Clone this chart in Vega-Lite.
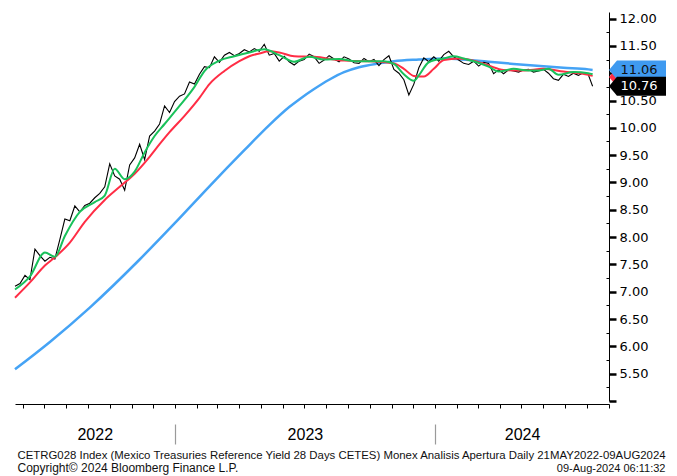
{
"$schema": "https://vega.github.io/schema/vega-lite/v6.json",
"width": 594, "height": 389,
"autosize": {"type": "none"},
"padding": {"left": 15, "top": 12, "right": 68, "bottom": 75},
"background": "white",
"config": {"view": {"stroke": null}, "font": "Liberation Sans", "axis": {"titleFontWeight": "normal", "grid": false}},
"datasets": {
"s": [
{"d":"2022-05-21","s":"L","v":7.10},{"d":"2022-05-28","s":"L","v":7.15},{"d":"2022-06-04","s":"L","v":7.30},{"d":"2022-06-11","s":"L","v":7.22},{"d":"2022-06-18","s":"L","v":7.78},{"d":"2022-06-25","s":"L","v":7.66},{"d":"2022-07-02","s":"L","v":7.56},{"d":"2022-07-09","s":"L","v":7.63},{"d":"2022-07-16","s":"L","v":7.60},{"d":"2022-07-23","s":"L","v":7.96},{"d":"2022-07-30","s":"L","v":8.33},{"d":"2022-08-06","s":"L","v":8.30},{"d":"2022-08-13","s":"L","v":8.57},{"d":"2022-08-20","s":"L","v":8.46},{"d":"2022-08-27","s":"L","v":8.58},{"d":"2022-09-03","s":"L","v":8.62},{"d":"2022-09-10","s":"L","v":8.72},{"d":"2022-09-17","s":"L","v":8.80},{"d":"2022-09-24","s":"L","v":8.92},{"d":"2022-10-01","s":"L","v":9.34},{"d":"2022-10-08","s":"L","v":9.12},{"d":"2022-10-15","s":"L","v":9.06},{"d":"2022-10-22","s":"L","v":8.86},{"d":"2022-10-29","s":"L","v":9.32},{"d":"2022-11-05","s":"L","v":9.45},{"d":"2022-11-12","s":"L","v":9.70},{"d":"2022-11-19","s":"L","v":9.42},{"d":"2022-11-26","s":"L","v":9.85},{"d":"2022-12-03","s":"L","v":9.94},{"d":"2022-12-10","s":"L","v":10.07},{"d":"2022-12-17","s":"L","v":10.40},{"d":"2022-12-24","s":"L","v":10.28},{"d":"2022-12-31","s":"L","v":10.48},
{"d":"2023-01-07","s":"L","v":10.58},{"d":"2023-01-14","s":"L","v":10.62},{"d":"2023-01-21","s":"L","v":10.84},{"d":"2023-01-28","s":"L","v":10.80},{"d":"2023-02-04","s":"L","v":10.98},{"d":"2023-02-11","s":"L","v":11.12},{"d":"2023-02-18","s":"L","v":11.10},{"d":"2023-02-25","s":"L","v":11.30},{"d":"2023-03-04","s":"L","v":11.20},{"d":"2023-03-11","s":"L","v":11.33},{"d":"2023-03-18","s":"L","v":11.38},{"d":"2023-03-25","s":"L","v":11.32},{"d":"2023-04-01","s":"L","v":11.36},{"d":"2023-04-08","s":"L","v":11.43},{"d":"2023-04-15","s":"L","v":11.39},{"d":"2023-04-22","s":"L","v":11.45},{"d":"2023-04-29","s":"L","v":11.40},{"d":"2023-05-06","s":"L","v":11.53},{"d":"2023-05-13","s":"L","v":11.33},{"d":"2023-05-20","s":"L","v":11.36},{"d":"2023-05-27","s":"L","v":11.22},{"d":"2023-06-03","s":"L","v":11.31},{"d":"2023-06-10","s":"L","v":11.21},{"d":"2023-06-17","s":"L","v":11.15},{"d":"2023-06-24","s":"L","v":11.22},{"d":"2023-07-01","s":"L","v":11.25},{"d":"2023-07-08","s":"L","v":11.35},{"d":"2023-07-15","s":"L","v":11.30},{"d":"2023-07-22","s":"L","v":11.18},{"d":"2023-07-29","s":"L","v":11.24},{"d":"2023-08-05","s":"L","v":11.32},{"d":"2023-08-12","s":"L","v":11.26},{"d":"2023-08-19","s":"L","v":11.21},{"d":"2023-08-26","s":"L","v":11.30},{"d":"2023-09-02","s":"L","v":11.26},{"d":"2023-09-09","s":"L","v":11.19},{"d":"2023-09-16","s":"L","v":11.18},{"d":"2023-09-23","s":"L","v":11.27},{"d":"2023-09-30","s":"L","v":11.21},{"d":"2023-10-07","s":"L","v":11.25},{"d":"2023-10-14","s":"L","v":11.14},{"d":"2023-10-21","s":"L","v":11.25},{"d":"2023-10-28","s":"L","v":11.32},{"d":"2023-11-04","s":"L","v":11.07},{"d":"2023-11-11","s":"L","v":11.00},{"d":"2023-11-18","s":"L","v":10.88},{"d":"2023-11-25","s":"L","v":10.60},{"d":"2023-12-02","s":"L","v":10.80},{"d":"2023-12-09","s":"L","v":11.10},{"d":"2023-12-16","s":"L","v":11.28},{"d":"2023-12-23","s":"L","v":11.21},{"d":"2023-12-30","s":"L","v":11.30},
{"d":"2024-01-06","s":"L","v":11.22},{"d":"2024-01-13","s":"L","v":11.34},{"d":"2024-01-20","s":"L","v":11.40},{"d":"2024-01-27","s":"L","v":11.30},{"d":"2024-02-03","s":"L","v":11.24},{"d":"2024-02-10","s":"L","v":11.18},{"d":"2024-02-17","s":"L","v":11.16},{"d":"2024-02-24","s":"L","v":11.22},{"d":"2024-03-02","s":"L","v":11.13},{"d":"2024-03-09","s":"L","v":11.20},{"d":"2024-03-16","s":"L","v":11.18},{"d":"2024-03-23","s":"L","v":10.99},{"d":"2024-03-30","s":"L","v":11.06},{"d":"2024-04-06","s":"L","v":10.99},{"d":"2024-04-13","s":"L","v":11.06},{"d":"2024-04-20","s":"L","v":11.04},{"d":"2024-04-27","s":"L","v":11.02},{"d":"2024-05-04","s":"L","v":11.06},{"d":"2024-05-11","s":"L","v":11.07},{"d":"2024-05-18","s":"L","v":11.02},{"d":"2024-05-25","s":"L","v":11.04},{"d":"2024-06-01","s":"L","v":11.07},{"d":"2024-06-08","s":"L","v":11.00},{"d":"2024-06-15","s":"L","v":10.90},{"d":"2024-06-22","s":"L","v":10.87},{"d":"2024-06-29","s":"L","v":10.98},{"d":"2024-07-06","s":"L","v":10.94},{"d":"2024-07-13","s":"L","v":11.00},{"d":"2024-07-20","s":"L","v":10.96},{"d":"2024-07-27","s":"L","v":11.01},{"d":"2024-08-03","s":"L","v":10.97},{"d":"2024-08-09","s":"L","v":10.76},
{"d":"2022-05-21","s":"G","v":7.04},{"d":"2022-06-11","s":"G","v":7.28},{"d":"2022-07-02","s":"G","v":7.72},{"d":"2022-07-16","s":"G","v":7.64},{"d":"2022-07-30","s":"G","v":8.02},{"d":"2022-08-20","s":"G","v":8.46},{"d":"2022-09-10","s":"G","v":8.64},{"d":"2022-09-24","s":"G","v":8.76},{"d":"2022-10-08","s":"G","v":9.25},{"d":"2022-10-22","s":"G","v":9.06},{"d":"2022-11-05","s":"G","v":9.20},{"d":"2022-11-19","s":"G","v":9.55},{"d":"2022-12-03","s":"G","v":9.85},{"d":"2022-12-17","s":"G","v":10.07},{"d":"2023-01-07","s":"G","v":10.40},{"d":"2023-01-28","s":"G","v":10.75},{"d":"2023-02-11","s":"G","v":11.04},{"d":"2023-03-04","s":"G","v":11.23},{"d":"2023-03-25","s":"G","v":11.31},{"d":"2023-04-15","s":"G","v":11.38},{"d":"2023-05-06","s":"G","v":11.44},{"d":"2023-05-27","s":"G","v":11.33},{"d":"2023-06-17","s":"G","v":11.21},{"d":"2023-07-08","s":"G","v":11.30},{"d":"2023-07-29","s":"G","v":11.25},{"d":"2023-08-19","s":"G","v":11.26},{"d":"2023-09-09","s":"G","v":11.22},{"d":"2023-09-30","s":"G","v":11.22},{"d":"2023-10-21","s":"G","v":11.22},{"d":"2023-11-04","s":"G","v":11.17},{"d":"2023-11-18","s":"G","v":10.98},{"d":"2023-12-02","s":"G","v":10.86},{"d":"2023-12-09","s":"G","v":10.96},{"d":"2023-12-23","s":"G","v":11.20},{"d":"2024-01-13","s":"G","v":11.27},{"d":"2024-01-27","s":"G","v":11.31},{"d":"2024-02-10","s":"G","v":11.27},{"d":"2024-02-24","s":"G","v":11.22},{"d":"2024-03-16","s":"G","v":11.12},{"d":"2024-03-30","s":"G","v":11.03},{"d":"2024-04-20","s":"G","v":11.08},{"d":"2024-05-11","s":"G","v":11.05},{"d":"2024-05-25","s":"G","v":11.05},{"d":"2024-06-08","s":"G","v":11.08},{"d":"2024-06-22","s":"G","v":10.97},{"d":"2024-07-13","s":"G","v":11.02},{"d":"2024-08-03","s":"G","v":11.00},{"d":"2024-08-09","s":"G","v":10.98},
{"d":"2022-05-21","s":"R","v":6.89},{"d":"2022-06-11","s":"R","v":7.17},{"d":"2022-07-02","s":"R","v":7.48},{"d":"2022-07-16","s":"R","v":7.63},{"d":"2022-08-06","s":"R","v":7.90},{"d":"2022-08-27","s":"R","v":8.28},{"d":"2022-09-24","s":"R","v":8.68},{"d":"2022-10-15","s":"R","v":8.92},{"d":"2022-11-05","s":"R","v":9.16},{"d":"2022-11-26","s":"R","v":9.47},{"d":"2022-12-10","s":"R","v":9.70},{"d":"2022-12-24","s":"R","v":9.92},{"d":"2023-01-14","s":"R","v":10.22},{"d":"2023-02-04","s":"R","v":10.55},{"d":"2023-02-18","s":"R","v":10.80},{"d":"2023-03-11","s":"R","v":11.04},{"d":"2023-04-01","s":"R","v":11.22},{"d":"2023-04-15","s":"R","v":11.31},{"d":"2023-04-29","s":"R","v":11.36},{"d":"2023-05-13","s":"R","v":11.40},{"d":"2023-05-27","s":"R","v":11.38},{"d":"2023-06-17","s":"R","v":11.31},{"d":"2023-07-15","s":"R","v":11.30},{"d":"2023-08-26","s":"R","v":11.23},{"d":"2023-09-30","s":"R","v":11.22},{"d":"2023-10-14","s":"R","v":11.21},{"d":"2023-11-04","s":"R","v":11.18},{"d":"2023-11-18","s":"R","v":11.08},{"d":"2023-12-02","s":"R","v":10.95},{"d":"2023-12-16","s":"R","v":10.94},{"d":"2023-12-30","s":"R","v":11.08},{"d":"2024-01-13","s":"R","v":11.24},{"d":"2024-02-03","s":"R","v":11.27},{"d":"2024-02-24","s":"R","v":11.23},{"d":"2024-03-16","s":"R","v":11.14},{"d":"2024-04-06","s":"R","v":11.06},{"d":"2024-05-04","s":"R","v":11.05},{"d":"2024-06-01","s":"R","v":11.08},{"d":"2024-06-29","s":"R","v":11.03},{"d":"2024-08-03","s":"R","v":10.97},{"d":"2024-08-09","s":"R","v":10.95},
{"d":"2022-05-21","s":"B","v":5.58},{"d":"2022-07-09","s":"B","v":6.08},{"d":"2022-09-03","s":"B","v":6.71},{"d":"2022-11-12","s":"B","v":7.59},{"d":"2022-12-31","s":"B","v":8.25},{"d":"2023-02-18","s":"B","v":8.93},{"d":"2023-04-08","s":"B","v":9.59},{"d":"2023-05-13","s":"B","v":10.05},{"d":"2023-06-10","s":"B","v":10.38},{"d":"2023-06-24","s":"B","v":10.52},{"d":"2023-07-15","s":"B","v":10.71},{"d":"2023-08-05","s":"B","v":10.88},{"d":"2023-08-26","s":"B","v":11.02},{"d":"2023-09-16","s":"B","v":11.11},{"d":"2023-10-14","s":"B","v":11.18},{"d":"2023-11-04","s":"B","v":11.22},{"d":"2023-12-09","s":"B","v":11.25},{"d":"2024-01-13","s":"B","v":11.27},{"d":"2024-02-17","s":"B","v":11.24},{"d":"2024-03-16","s":"B","v":11.21},{"d":"2024-04-20","s":"B","v":11.17},{"d":"2024-05-18","s":"B","v":11.14},{"d":"2024-06-29","s":"B","v":11.10},{"d":"2024-08-03","s":"B","v":11.07},{"d":"2024-08-09","s":"B","v":11.06}
],
"tags": [
{"s":"R","v":10.93,"label":""},
{"s":"B","v":11.06,"label":"11.06"},
{"s":"L","v":10.76,"label":"10.76"}
]
},
"data": {"name": "s"},
"layer": [
{
"transform": [{"filter": "datum.s == 'B'"}],
"mark": {"type": "line", "color": "#45a3f5", "strokeWidth": 2.5, "interpolate": "monotone"},
"encoding": {
"x": {"field": "d", "type": "temporal", "scale": {"domain": [{"year":2022,"month":5,"date":21},{"year":2024,"month":9,"date":1}]},
"axis": {"orient": "bottom", "offset": 3, "labels": false, "tickCount": {"interval": "month", "step": 1}, "tickSize": 4, "tickColor": "black", "domainColor": "black", "title": "CETRG028 Index (Mexico Treasuries Reference Yield 28 Days CETES) Monex Analisis Apertura  Daily 21MAY2022-09AUG2024", "titleX": 2, "titleY": 54, "titleAlign": "left", "titleBaseline": "alphabetic", "titleFontSize": 11.4, "titleColor": "#111", "titleFont": "Liberation Sans"}},
"y": {"field": "v", "type": "quantitative", "scale": {"domain": [5, 12.12], "nice": false, "zero": false},
"axis": {"orient": "right", "values": [5,5.5,6,6.5,7,7.5,8,8.5,9,9.5,10,10.5,11,11.5,12], "labelExpr": "(datum.value == 5 || datum.value == 11) ? '' : format(datum.value, '.2f')", "tickSize": 7, "tickWidth": 2.5, "tickColor": "black", "domainColor": "black", "labelFont": "DejaVu Sans", "labelFontSize": 13, "labelColor": "black", "labelPadding": 3, "title": null}}
}
},
{
"transform": [{"filter": "datum.s == 'L'"}],
"mark": {"type": "line", "color": "#000000", "strokeWidth": 1.1},
"encoding": {
"x": {"field": "d", "type": "temporal", "scale": {"domain": [{"year":2022,"month":5,"date":21},{"year":2024,"month":9,"date":1}]},
"axis": {"orient": "bottom", "offset": 23, "labels": false, "domain": false, "values": [{"year":2023,"month":1,"date":1},{"year":2024,"month":1,"date":1}], "tickSize": 20, "tickColor": "#9a9a9a", "tickWidth": 1.2, "title": "Copyright© 2024 Bloomberg Finance L.P.", "titleX": 2, "titleY": 47, "titleAlign": "left", "titleBaseline": "alphabetic", "titleFontSize": 12, "titleColor": "#111", "titleFont": "Liberation Sans"}},
"y": {"field": "v", "type": "quantitative", "scale": {"domain": [5, 12.12], "nice": false, "zero": false},
"axis": {"orient": "right", "values": [5.25,5.75,6.25,6.75,7.25,7.75,8.25,8.75,9.25,9.75,10.25,10.75,11.25,11.75], "labels": false, "domain": false, "tickSize": -3, "tickWidth": 1, "tickColor": "black", "title": null}}
}
},
{
"transform": [{"filter": "datum.s == 'R'"}],
"mark": {"type": "line", "color": "#ff2d45", "strokeWidth": 2, "interpolate": "monotone"},
"encoding": {
"x": {"field": "d", "type": "temporal", "scale": {"domain": [{"year":2022,"month":5,"date":21},{"year":2024,"month":9,"date":1}]},
"axis": {"orient": "bottom", "offset": 0, "domain": false, "ticks": false, "tickSize": 0, "values": [{"year":2022,"month":9,"date":10},{"year":2023,"month":7,"date":2},{"year":2024,"month":5,"date":2}], "labelExpr": "timeFormat(datum.value, '%Y')", "labelPadding": 25, "labelFontSize": 16, "labelFont": "Liberation Sans", "labelColor": "black", "title": "09-Aug-2024 06:11:32", "titleX": 650, "titleY": 70, "titleAlign": "right", "titleBaseline": "alphabetic", "titleFontSize": 11, "titleColor": "#111", "titleFont": "Liberation Sans"}},
"y": {"field": "v", "type": "quantitative", "scale": {"domain": [5, 12.12], "nice": false, "zero": false}, "axis": null}
}
},
{
"transform": [{"filter": "datum.s == 'G'"}],
"mark": {"type": "line", "color": "#19c15a", "strokeWidth": 2, "interpolate": "monotone"},
"encoding": {
"x": {"field": "d", "type": "temporal", "axis": null},
"y": {"field": "v", "type": "quantitative", "axis": null}
}
},
{
"data": {"name": "tags"},
"mark": {"type": "point", "shape": "M0,0L0.28,-0.333L2,-0.333L2,0.333L0.28,0.333Z", "filled": true, "opacity": 1, "strokeWidth": 0, "size": 3249},
"encoding": {
"x": {"datum": {"year":2024,"month":9,"date":1}, "type": "temporal", "axis": null},
"y": {"field": "v", "type": "quantitative", "axis": null},
"color": {"field": "s", "type": "nominal", "scale": {"domain": ["R","B","L"], "range": ["#ff2d45","#3f9af0","#000000"]}, "legend": null}
}
},
{
"data": {"name": "tags"},
"mark": {"type": "text", "dx": 30, "align": "center", "baseline": "middle", "font": "DejaVu Sans", "fontSize": 13},
"encoding": {
"x": {"datum": {"year":2024,"month":9,"date":1}, "type": "temporal", "axis": null},
"y": {"field": "v", "type": "quantitative", "axis": null},
"text": {"field": "label"},
"color": {"condition": {"test": "datum.s == 'L'", "value": "white"}, "value": "#111111"}
}
}
],
"resolve": {"axis": {"x": "independent", "y": "independent"}}
}
